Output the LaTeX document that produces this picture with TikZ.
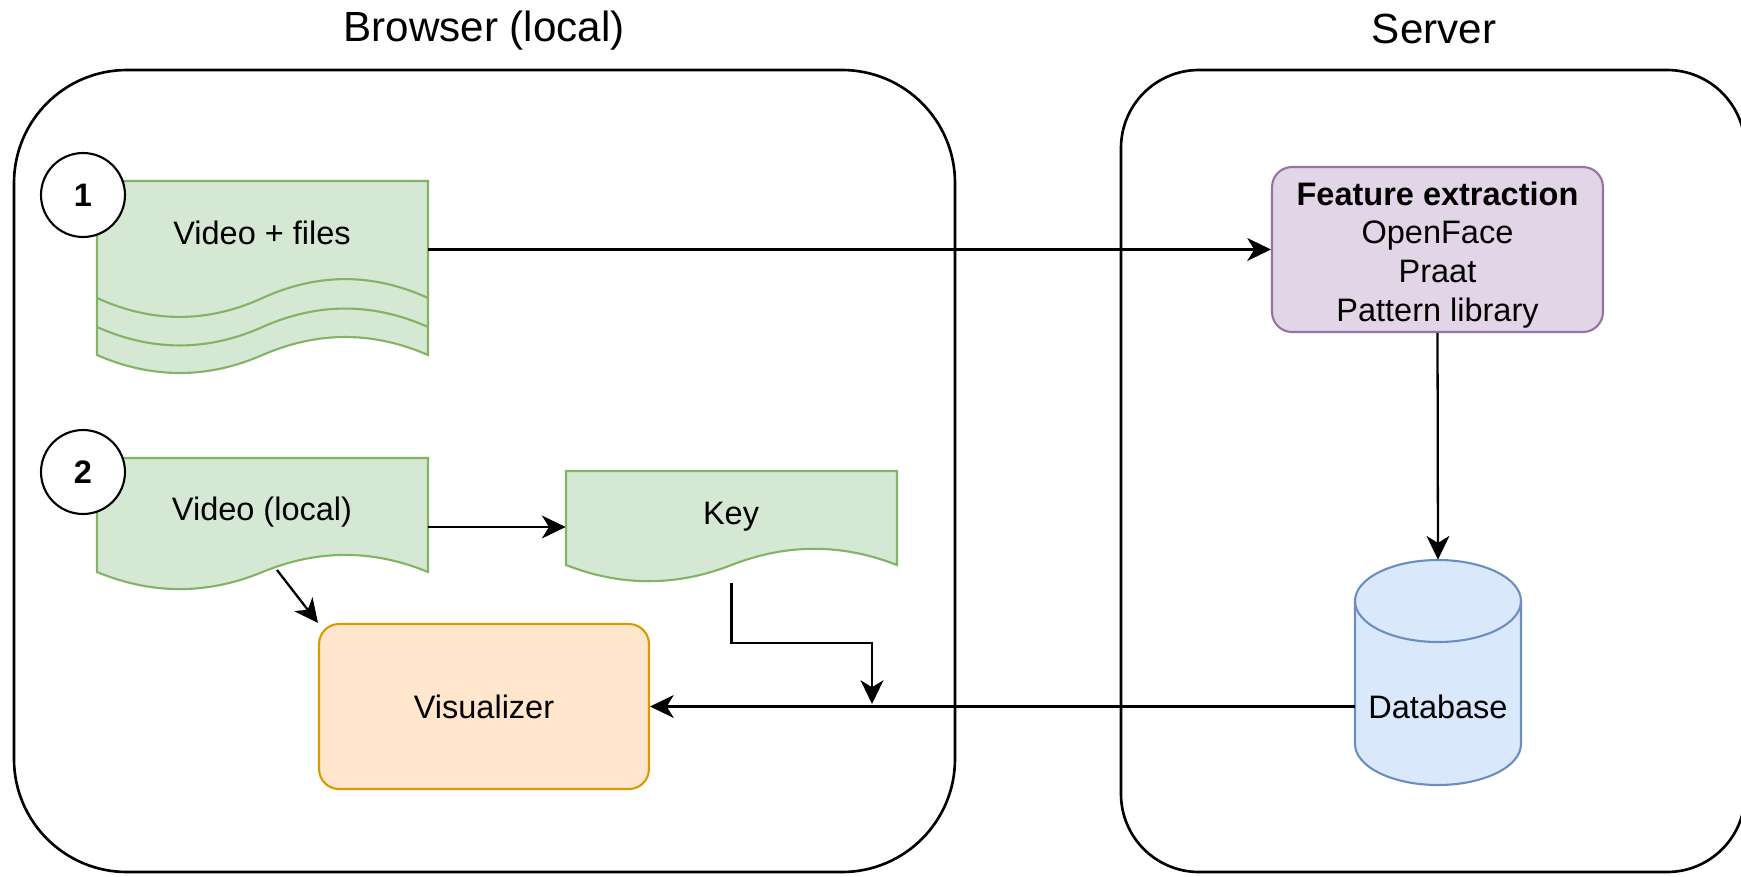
\documentclass[tikz,border=0pt]{standalone}
\usepackage{fontspec}
\setmainfont{Liberation Sans}
\usetikzlibrary{positioning, arrows.meta, fit, calc}

\definecolor{docfill}{HTML}{D5E8D4}
\definecolor{docline}{HTML}{82B366}
\definecolor{fefill}{HTML}{E1D5E7}
\definecolor{feline}{HTML}{9673A6}
\definecolor{visfill}{HTML}{FFE6CC}
\definecolor{visline}{HTML}{D79B00}
\definecolor{dbfill}{HTML}{DAE8FC}
\definecolor{dbline}{HTML}{6C8EBF}

% wavy bottom edge of a document, from right to left: left x, right x, base y, depth
\newcommand{\wave}[4]{(#2,#3) .. controls ({#2-(#2-#1)/6},{#3-0.6*#4}) and ({(#1+#2)/2+(#2-#1)/6},{#3-0.6*#4}) .. ({(#1+#2)/2},#3) .. controls ({(#1+#2)/2-(#2-#1)/6},{#3+0.6*#4}) and ({#1+(#2-#1)/6},{#3+0.6*#4}) .. (#1,#3)}

\begin{document}
\begin{tikzpicture}[x=0.02cm, y=-0.02cm, font=\fontsize{18.5}{22.1}\selectfont,
    frame/.style={draw=black, line width=1.5pt},
    title/.style={font=\fontsize{24}{28}\selectfont},
    doc/.style={fill=docfill, draw=docline, line width=1.2pt},
    numcircle/.style={circle, draw=black, fill=white, line width=1.2pt, minimum size=1.68cm, inner sep=0pt, font=\fontsize{18.5}{22.1}\selectfont\bfseries},
    febox/.style={rectangle, rounded corners=0.4cm, fill=fefill, draw=feline, line width=1.2pt, minimum width=6.62cm, minimum height=3.3cm},
    visbox/.style={rectangle, rounded corners=0.4cm, fill=visfill, draw=visline, line width=1.2pt, minimum width=6.6cm, minimum height=3.3cm},
    conn/.style={-{Stealth[length=13.5pt, width=13pt, inset=4pt]}, line width=1.3pt},
    anchorbox/.style={inner sep=0pt}]

    \useasboundingbox (0,0) rectangle (1741,876);

    % containers
    \draw [frame, rounded corners=2.26cm] (14,70) rectangle (955,872);
    \draw [frame, rounded corners=1.56cm] (1121,70) rectangle (1745,872);
    \node [title] (browsertitle) at (484,31) {Browser (local)};
    \node [title] (servertitle) at (1434,29) {Server};

    % documents
    \filldraw [doc] (97,181) -- (428,181) -- \wave{97}{428}{355}{40} -- cycle;
    \draw [doc, fill=none] \wave{97}{428}{298}{42};
    \draw [doc, fill=none] \wave{97}{428}{327}{41};
    \node [anchorbox, fit={(97,181) (428,375)}] (vfiles) {};
    \node (vfilestext) at (262,233) {Video + files};

    \filldraw [doc] (97,458) -- (428,458) -- \wave{97}{428}{572}{38} -- cycle;
    \node [anchorbox, fit={(97,458) (428,591)}] (vlocal) {};
    \node (vlocaltext) at (262,512) {Video (local)};

    \filldraw [doc] (566,471) -- (897,471) -- \wave{566}{897}{565}{36} -- cycle;
    \node [anchorbox, fit={(566,471) (897,583)}] (key) {};
    \node (keytext) at (731,517) {Key};

    \node [numcircle] (n1) at (83,195) {1};
    \node [numcircle] (n2) at (83,472) {2};

    % server side
    \node [febox] (fe) at (1437.5,249.5) {};
    \node [align=center] (fetext) at (1437.5,255) {\textbf{Feature extraction}\\OpenFace\\Praat\\Pattern library};

    \filldraw [fill=dbfill, draw=dbline, line width=1.2pt] (1355,601) -- (1355,744)
        arc [start angle=180, end angle=0, x radius=83, y radius=41] -- (1521,601)
        arc [start angle=0, end angle=-180, x radius=83, y radius=41] -- cycle;
    \draw [draw=dbline, line width=1.2pt] (1355,601) arc [start angle=180, end angle=0, x radius=83, y radius=41];
    \node [anchorbox, fit={(1355,560) (1521,785)}] (db) {};
    \node (dbtext) at (1438,707) {Database};

    \node [visbox] (vis) at (484,706.5) {Visualizer};

    % connectors
    \coordinate (vlocalfoot) at (277,570);
    \coordinate (keybend) at (872,643);
    \coordinate (join) at (872,704);
    \draw [conn] (vfiles.east |- fe.west) -- (fe.west);
    \draw [conn] (vlocal.east |- key.west) -- (key.west);
    \draw [conn] (vlocalfoot) -- (vis.north west);
    \draw [conn] (key.south) |- (keybend) -- (join);
    \draw [conn] (fe.south) -- (db.north);
    \draw [conn] (db.west |- vis.east) -- (vis.east);
\end{tikzpicture}
\end{document}
